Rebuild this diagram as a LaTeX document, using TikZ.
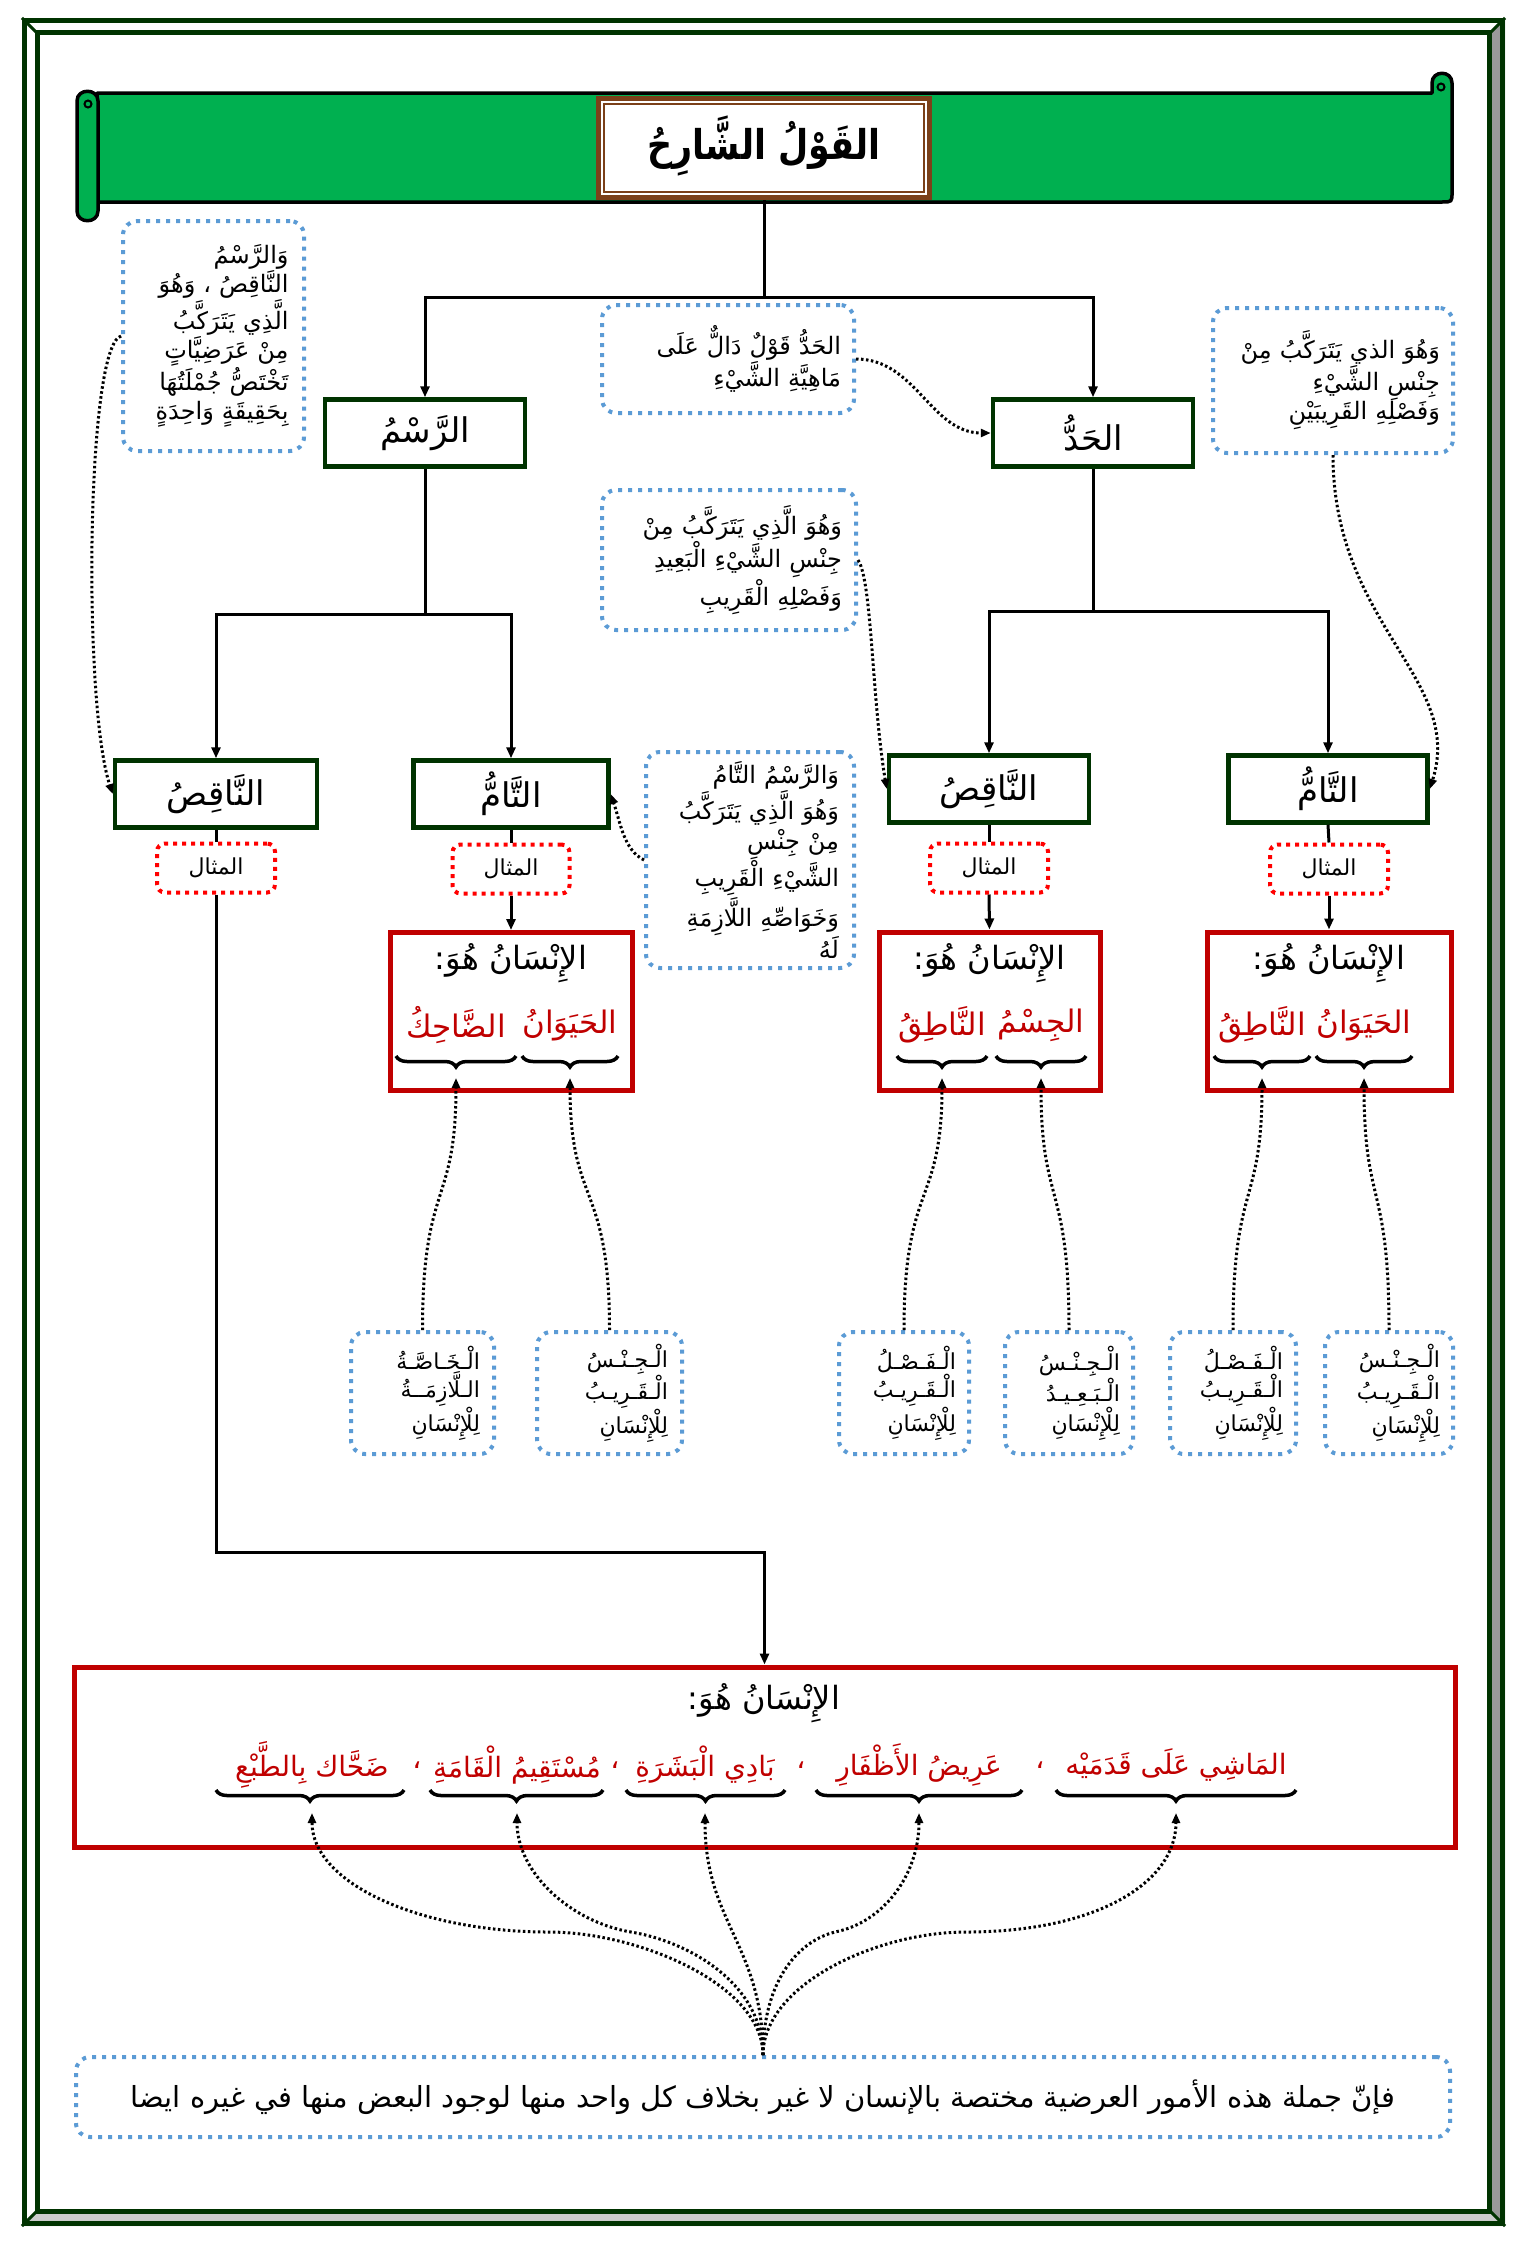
\documentclass[tikz,border=0pt]{standalone}
\usepackage{fontspec}
\usetikzlibrary{arrows.meta,decorations.pathreplacing,calc}
\TeXXeTstate=1
\newfontfamily\arfont[Script=Arabic]{DejaVu Sans}
\newfontfamily\artitle[Script=Arabic,FakeStretch=0.85]{DejaVu Sans}
\newcommand\AR[1]{\beginR#1\endR}
\definecolor{frameg}{HTML}{003300}
\definecolor{bannerg}{HTML}{00B050}
\definecolor{brownc}{HTML}{7B4019}
\definecolor{darkred}{HTML}{C00000}
\definecolor{dotblue}{HTML}{5B9BD5}
\definecolor{dotred}{HTML}{FF0000}
\begin{document}
\begin{tikzpicture}[x=1pt,y=-1pt,
  catbox/.style={draw=frameg,line width=4.5pt,fill=white,minimum width=200pt,minimum height=67pt,inner sep=0pt,font=\arfont\fontsize{34}{40}\selectfont},
  mithbox/.style={draw=dotred,line width=4pt,dash pattern=on 4pt off 5pt,rounded corners=8pt,minimum width=118pt,minimum height=49pt,inner sep=0pt,fill=white,font=\arfont\fontsize{22}{26}\selectfont},
  exbox/.style={draw=darkred,line width=5pt,minimum height=158pt,inner sep=0pt},
  notebox/.style={draw=dotblue,line width=4pt,dash pattern=on 4pt off 6pt,rounded corners=14pt,inner sep=0pt,align=right,font=\arfont\fontsize{24}{29.5}\selectfont},
  smallbox/.style={notebox,minimum height=122pt,font=\arfont\fontsize{22}{28}\selectfont},
  hutxt/.style={font=\arfont\fontsize{32}{38}\selectfont,inner sep=0pt},
  redtxt/.style={font=\arfont\fontsize{31}{38}\selectfont,text=darkred,inner sep=0pt},
  redph/.style={font=\arfont\fontsize{28}{34}\selectfont,text=darkred,inner sep=0pt},
  conn/.style={line width=3pt},
  arr/.style={line width=3pt,-{Triangle[length=11pt,width=9pt]}},
  dotarr/.style={line width=3pt,dash pattern=on 2.5pt off 2.5pt,-{Triangle[length=10pt,width=8pt]}},
  brc/.style={decorate,decoration={brace,amplitude=11pt},line width=3.5pt},
  scrollst/.style={fill=bannerg,draw=black,line width=3.5pt,line join=round}
]
\useasboundingbox (0,0) rectangle (1526,2248);
\fill[white] (0,0) rectangle (1526,2248);
% frame
\fill[black!40] (1490,33) -- (1505,18) -- (1505,2226) -- (1490,2211) -- cycle;
\fill[black!20] (37,2211) -- (1490,2211) -- (1505,2226) -- (22,2226) -- cycle;
\draw[frameg,line width=5pt] (24.5,20.5) rectangle (1502.5,2223.5);
\draw[frameg,line width=5pt] (37,33) rectangle (1489.5,2211.5);
\draw[frameg,line width=3pt] (22,18) -- (37,33) (1505,18) -- (1490,33) (22,2226) -- (37,2211) (1505,2226) -- (1490,2211);
% scroll banner
\filldraw[scrollst] (97,93) -- (1432,93) -- (1432,83) .. controls (1432,70) and (1452,70) .. (1452,83) -- (1452,192) .. controls (1452,202) .. (1442,202) -- (97,202) -- cycle;
\draw[line width=2pt] (1441,87) circle (3.5);
\filldraw[scrollst] (77,101) .. controls (77,88) and (98,88) .. (98,101) -- (98,211) .. controls (98,224) and (77,224) .. (77,211) -- cycle;
\draw[line width=2pt] (88,104) circle (3.5);
% title
\node[draw=brownc,line width=5pt,fill=white,minimum width=331pt,minimum height=99pt,inner sep=0pt] (title) at (764,148) {};
\draw[brownc,line width=2pt] ($(title.north west)+(8,8)$) rectangle ($(title.south east)+(-8,-8)$);
\node[font=\artitle\bfseries\fontsize{41}{48}\selectfont,inner sep=0pt] (titletxt) at (764,146) {\AR{القَوْلُ الشَّارِحُ}};
% level 1
\node[catbox] (rasm) at (425,433) {\AR{الرَّسْمُ}};
\node[catbox] (hadd) at (1093,433) {\AR{الحَدُّ}};
\coordinate (j0) at (764,297);
\draw[conn] (title.south) -- (j0);
\draw[arr] (j0) -| (rasm.north);
\draw[arr] (j0) -| (hadd.north);
% level 2
\node[catbox,minimum width=202pt] (naqL) at (216,794) {\AR{النَّاقِصُ}};
\node[catbox,minimum width=195pt] (tamL) at (511,794) {\AR{التَّامُّ}};
\node[catbox] (naqR) at (989,789) {\AR{النَّاقِصُ}};
\node[catbox,minimum width=199pt] (tamR) at (1328,789) {\AR{التَّامُّ}};
\coordinate (j1) at (425,614);
\coordinate (j2) at (1093,611);
\draw[conn] (rasm.south) -- (j1);
\draw[arr] (j1) -| (naqL.north);
\draw[arr] (j1) -| (tamL.north);
\draw[conn] (hadd.south) -- (j2);
\draw[arr] (j2) -| (naqR.north);
\draw[arr] (j2) -| (tamR.north);
% mithal
\node[mithbox] (m1) at (216,868) {\AR{المثال}};
\node[mithbox,minimum width=117pt] (m2) at (511,869) {\AR{المثال}};
\node[mithbox] (m3) at (989,868) {\AR{المثال}};
\node[mithbox] (m4) at (1329,869) {\AR{المثال}};
\draw[conn] (naqL.south) -- (m1.north);
\draw[conn] (tamL.south) -- (m2.north);
\draw[conn] (naqR.south) -- (m3.north);
\draw[conn] (tamR.south) -- (m4.north);
% example boxes
\node[exbox,minimum width=242pt] (exL) at (511,1011.5) {};
\node[exbox,minimum width=221pt] (exM) at (989.5,1011) {};
\node[exbox,minimum width=244pt] (exR) at (1329,1011) {};
\draw[arr] (m2.south) -- (exL.north);
\draw[arr] (m3.south) -- (exM.north);
\draw[arr] (m4.south) -- (exR.north);
\node[hutxt] (huL) at (511,963) {\AR{الإِنْسَانُ هُوَ:}};
\node[hutxt] (huM) at (989.5,963) {\AR{الإِنْسَانُ هُوَ:}};
\node[hutxt] (huR) at (1329,963) {\AR{الإِنْسَانُ هُوَ:}};
\node[redtxt] (wL1) at (456,1025) {\AR{الضَّاحِكُ}};
\node[redtxt] (wL2) at (570,1025) {\AR{الحَيَوَانُ}};
\node[redtxt] (wM1) at (942,1025) {\AR{النَّاطِقُ}};
\node[redtxt] (wM2) at (1041,1025) {\AR{الجِسْمُ}};
\node[redtxt] (wR1) at (1262,1025) {\AR{النَّاطِقُ}};
\node[redtxt] (wR2) at (1364,1025) {\AR{الحَيَوَانُ}};
\draw[brc] (516,1056) -- (396,1056);
\draw[brc] (618,1056) -- (522,1056);
\draw[brc] (987,1056) -- (897,1056);
\draw[brc] (1086,1056) -- (996,1056);
\draw[brc] (1310,1056) -- (1214,1056);
\draw[brc] (1412,1056) -- (1316,1056);
\coordinate (tA) at (456,1078);
\coordinate (tB) at (570,1078);
\coordinate (tC) at (942,1078);
\coordinate (tD) at (1041,1078);
\coordinate (tE) at (1262,1078);
\coordinate (tF) at (1364,1078);
% small boxes
\node[smallbox,minimum width=143pt,text width=115pt] (sA) at (422.5,1393) {\AR{الْـخَـاصَّـةُ}\\\AR{الـلَّازِمَــةُ}\\\AR{لِلْإِنْسَانِ}};
\node[smallbox,minimum width=145pt,text width=117pt] (sB) at (609.5,1393) {\AR{الْـجِـنْـسُ}\\\AR{الْـقَـرِيـبُ}\\\AR{لِلْإِنْسَانِ}};
\node[smallbox,minimum width=130pt,text width=104pt] (sC) at (904,1393) {\AR{الْـفَـصْـلُ}\\\AR{الْـقَـرِيـبُ}\\\AR{لِلْإِنْسَانِ}};
\node[smallbox,minimum width=128pt,text width=102pt] (sD) at (1069,1393) {\AR{الْـجِـنْـسُ}\\\AR{الْـبَـعِـيـدُ}\\\AR{لِلْإِنْسَانِ}};
\node[smallbox,minimum width=126pt,text width=100pt] (sE) at (1233,1393) {\AR{الْـفَـصْـلُ}\\\AR{الْـقَـرِيـبُ}\\\AR{لِلْإِنْسَانِ}};
\node[smallbox,minimum width=128pt,text width=102pt] (sF) at (1389,1393) {\AR{الْـجِـنْـسُ}\\\AR{الْـقَـرِيـبُ}\\\AR{لِلْإِنْسَانِ}};
\draw[dotarr] (sA.north) .. controls +(0,-150) and +(0,130) .. (tA);
\draw[dotarr] (sB.north) .. controls +(0,-150) and +(0,130) .. (tB);
\draw[dotarr] (sC.north) .. controls +(0,-150) and +(0,130) .. (tC);
\draw[dotarr] (sD.north) .. controls +(0,-150) and +(0,130) .. (tD);
\draw[dotarr] (sE.north) .. controls +(0,-150) and +(0,130) .. (tE);
\draw[dotarr] (sF.north) .. controls +(0,-150) and +(0,130) .. (tF);
% explanation boxes
\node[notebox,minimum width=181pt,minimum height=230pt,text width=150pt] (lbox) at (213.5,336) {\AR{وَالرَّسْمُ}\\\AR{النَّاقِصُ ، وَهُوَ}\\\AR{الَّذِي يَتَرَكَّبُ}\\\AR{مِنْ عَرَضِيَّاتٍ}\\\AR{تَخْتَصُّ جُمْلَتُهَا}\\\AR{بِحَقِيقَةٍ وَاحِدَةٍ}};
\node[notebox,minimum width=252pt,minimum height=108pt,text width=226pt] (defbox) at (728,359) {\AR{الحَدُّ قَوْلٌ دَالٌّ عَلَى}\\\AR{مَاهِيَّةِ الشَّيْءِ}};
\node[notebox,minimum width=240pt,minimum height=145pt,text width=214pt] (trbox) at (1333,380.5) {\AR{وَهُوَ الذي يَتَرَكَّبُ مِنْ}\\\AR{جِنْسِ الشَّيْءِ}\\\AR{وَفَصْلِهِ القَرِيبَيْنِ}};
\node[notebox,minimum width=254pt,minimum height=140pt,text width=226pt] (midbox) at (729,560) {\AR{وَهُوَ الَّذِي يَتَرَكَّبُ مِنْ}\\\AR{جِنْسِ الشَّيْءِ الْبَعِيدِ}\\\AR{وَفَصْلِهِ الْقَرِيبِ}};
\node[notebox,minimum width=208pt,minimum height=216pt,text width=178pt] (tbox) at (750,860) {\AR{وَالرَّسْمُ التَّامُ}\\\AR{وَهُوَ الَّذِي يَتَرَكَّبُ}\\\AR{مِنْ جِنْسِ}\\\AR{الشَّيْءِ الْقَرِيبِ}\\\AR{وَخَوَاصِّهِ اللَّازِمَةِ}\\\AR{لَهُ}};
\draw[dotarr] (lbox.west) .. controls +(-35,10) and +(-30,-90) .. (naqL.west);
\draw[dotarr] (defbox.east) .. controls +(60,0) and +(-60,0) .. (hadd.west);
\draw[dotarr] (midbox.east) .. controls +(14,20) and +(-15,-90) .. (naqR.west);
\draw[dotarr] (trbox.south) .. controls +(0,170) and +(35,-110) .. (tamR.east);
\draw[dotarr] (tbox.west) .. controls +(-20,-10) and +(10,30) .. (tamL.east);
% bottom big box
\node[exbox,minimum width=1381pt,minimum height=180pt] (big) at (764.5,1757) {};
\coordinate (jb) at (764.5,1552);
\draw[arr] (m1.south) |- (jb) -- (big.north);
\node[hutxt] (huB) at (764,1703) {\AR{الإِنْسَانُ هُوَ:}};
\node[redph] (p1) at (1176,1765) {\AR{المَاشِي عَلَى قَدَمَيْه}};
\node[redph] (c1) at (1040,1765) {\AR{،}};
\node[redph] (p2) at (919,1765) {\AR{عَرِيضُ الأَظْفَارِ}};
\node[redph] (c2) at (801,1765) {\AR{،}};
\node[redph] (p3) at (705,1765) {\AR{بَادِي الْبَشَرَةِ}};
\node[redph] (c3) at (615,1765) {\AR{،}};
\node[redph] (p4) at (517,1765) {\AR{مُسْتَقِيمُ الْقَامَةِ}};
\node[redph] (c4) at (417,1765) {\AR{،}};
\node[redph] (p5) at (312,1765) {\AR{ضَحَّاك بِالطَّبْعِ}};
\draw[brc] (1296,1790) -- (1056,1790);
\draw[brc] (1022,1790) -- (816,1790);
\draw[brc] (785,1790) -- (626,1790);
\draw[brc] (603,1790) -- (430,1790);
\draw[brc] (404,1790) -- (216,1790);
\coordinate (b1) at (1176,1813);
\coordinate (b2) at (919,1813);
\coordinate (b3) at (705,1813);
\coordinate (b4) at (517,1813);
\coordinate (b5) at (312,1813);
% note
\node[notebox,minimum width=1374pt,minimum height=80pt,align=center,font=\arfont\fontsize{29}{34}\selectfont] (note) at (763,2097) {\AR{فإنّ جملة هذه الأمور العرضية مختصة بالإنسان لا غير بخلاف كل واحد منها لوجود البعض منها في غيره ايضا}};
\coordinate (m1c) at (966,1932);
\coordinate (m2c) at (835,1932);
\coordinate (m4c) at (631,1932);
\coordinate (m5c) at (549,1932);
\draw[dotarr] (note.north) .. controls +(0,-70) and +(-90,0) .. (m1c) .. controls +(130,0) and +(0,70) .. (b1);
\draw[dotarr] (note.north) .. controls +(0,-70) and +(-40,10) .. (m2c) .. controls +(50,-10) and +(0,60) .. (b2);
\draw[dotarr] (note.north) .. controls +(0,-110) and +(0,110) .. (b3);
\draw[dotarr] (note.north) .. controls +(0,-70) and +(60,10) .. (m4c) .. controls +(-60,-10) and +(0,60) .. (b4);
\draw[dotarr] (note.north) .. controls +(0,-70) and +(90,0) .. (m5c) .. controls +(-130,0) and +(0,70) .. (b5);
\end{tikzpicture}
\end{document}
